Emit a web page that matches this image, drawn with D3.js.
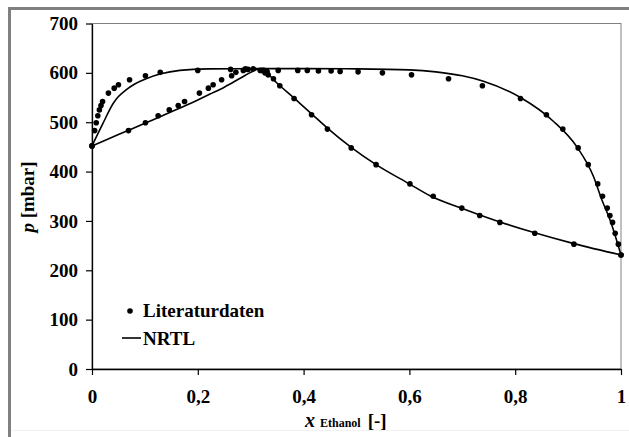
<!DOCTYPE html>
<html>
<head>
  <title>p-x-y Ethanol</title>
  <meta charset="utf-8" />
  <script src="https://d3js.org/d3.v7.min.js"></script>
</head>
<style>

body {
  margin: 0;
  background: #fff;
}

</style>
<body>
<div id="viz"></div>
<script>
'use strict';

// literature data: pressure [mbar], liquid x, vapour y
const litP = [452, 483, 499, 513, 525, 534, 542, 559, 569, 576, 586, 594, 601, 605, 607, 608,
  605, 605, 605, 604, 604, 603, 602, 600, 596, 588, 574, 548, 515, 486, 448, 414, 375, 350,
  326, 311, 297, 275, 253, 231];
const litX = [0, 0.005, 0.008, 0.011, 0.014, 0.017, 0.020, 0.031, 0.042, 0.050, 0.071, 0.101,
  0.129, 0.200, 0.262, 0.290,
  0.352, 0.389, 0.407, 0.428, 0.452, 0.469, 0.503, 0.549, 0.604, 0.674, 0.738, 0.810, 0.859,
  0.890, 0.919, 0.938, 0.956, 0.965, 0.974, 0.979, 0.984, 0.989, 0.995, 1.0];
const litY = [0, 0.069, 0.101, 0.125, 0.146, 0.163, 0.175, 0.203, 0.220, 0.229, 0.245, 0.264,
  0.272, 0.286, 0.295, 0.305,
  0.318, 0.322, 0.325, 0.327, 0.329, 0.330, 0.331, 0.327, 0.333, 0.343, 0.355, 0.382, 0.415,
  0.445, 0.490, 0.537, 0.601, 0.645, 0.699, 0.733, 0.771, 0.837, 0.911, 1.0];

// NRTL bubble and dew curves
const bubbleX = [0, 0.02, 0.04, 0.05, 0.065, 0.08, 0.10, 0.13, 0.166, 0.22, 0.30, 0.40, 0.50,
  0.60, 0.65, 0.70, 0.74, 0.81, 0.872, 0.916, 0.948, 0.963, 0.98, 1.0];
const bubbleP = [452, 496, 538, 552, 566, 577, 587, 598, 605, 608, 608.5, 608.5, 608, 606, 602,
  594, 583, 550, 502, 451, 390, 345, 300, 231];
const dewX = [0, 0.05, 0.10, 0.15, 0.20, 0.223, 0.25, 0.28, 0.30, 0.312, 0.33, 0.349, 0.382,
  0.415, 0.445, 0.49, 0.537, 0.60, 0.639, 0.70, 0.733, 0.771, 0.837, 0.911, 1.0];
const dewP = [452, 475, 498, 521, 545, 557, 571, 589, 601, 607, 600, 580, 549, 517, 488, 449,
  414, 375, 351, 325, 312, 298, 276, 254, 231];

const xTicks = [0, 0.2, 0.4, 0.6, 0.8, 1];
const xTickLabels = ['0', '0,2', '0,4', '0,6', '0,8', '1'];
const yTicks = [0, 100, 200, 300, 400, 500, 600, 700];

const FONT = 'Liberation Serif';
const FS = 19;

function viz() {
  const W = 629, H = 437;
  const svg = d3.select('#viz')
    .append('svg')
      .attr('width', W)
      .attr('height', H);

  svg.append('rect').attr('width', W).attr('height', H).attr('fill', '#fff');

  // outer frame (grey, left and top)
  svg.append('line').attr('x1', 9.5).attr('x2', 9.5).attr('y1', 7).attr('y2', H)
    .attr('stroke', '#808080').attr('stroke-width', 3);
  svg.append('line').attr('x1', 8).attr('x2', W).attr('y1', 8.5).attr('y2', 8.5)
    .attr('stroke', '#808080').attr('stroke-width', 3);
  svg.append('line').attr('x1', 11).attr('x2', W).attr('y1', 430.5).attr('y2', 430.5)
    .attr('stroke', '#f2f2f2').attr('stroke-width', 1);

  const xscale = d3.scaleLinear().domain([0, 1]).range([92, 621]);
  const yscale = d3.scaleLinear().domain([0, 700]).range([369, 23.5]);

  // plot frame
  svg.append('rect')
    .attr('x', xscale(0)).attr('y', yscale(700))
    .attr('width', xscale(1) - xscale(0)).attr('height', yscale(0) - yscale(700))
    .attr('fill', 'none').attr('stroke', '#808080').attr('stroke-width', 1);

  const xaxis = svg.append('g')
    .attr('transform', 'translate(0,' + yscale(0) + ')')
    .call(d3.axisBottom(xscale).tickValues(xTicks)
      .tickFormat((d, i) => xTickLabels[i]).tickSize(6).tickSizeOuter(0).tickPadding(15));
  const yaxis = svg.append('g')
    .attr('transform', 'translate(' + xscale(0) + ',0)')
    .call(d3.axisLeft(yscale).tickValues(yTicks).tickSize(6).tickSizeOuter(0).tickPadding(8));

  [xaxis, yaxis].forEach(g => {
    g.attr('font-family', null).attr('font-size', null);
    g.select('.domain').attr('stroke', '#000').attr('stroke-width', 1.3);
    g.selectAll('.tick line').attr('stroke', '#000').attr('stroke-width', 1.2);
    g.selectAll('.tick text')
      .attr('font-family', FONT)
      .attr('font-weight', 'bold')
      .attr('font-size', FS)
      .attr('fill', '#000');
  });

  const line = d3.line()
    .x(d => xscale(d[0]))
    .y(d => yscale(d[1]))
    .curve(d3.curveMonotoneX);

  svg.append('path')
    .datum(bubbleX.map((x, i) => [x, bubbleP[i]]))
    .attr('d', line)
    .attr('fill', 'none').attr('stroke', '#000').attr('stroke-width', 1.6);
  svg.append('path')
    .datum(dewX.map((x, i) => [x, dewP[i]]))
    .attr('d', line)
    .attr('fill', 'none').attr('stroke', '#000').attr('stroke-width', 1.6);

  const pts = [];
  litP.forEach((p, i) => {
    pts.push([litX[i], p]);
    pts.push([litY[i], p]);
  });
  svg.selectAll('circle.lit').data(pts)
    .enter()
    .append('circle')
    .attr('class', 'lit')
    .attr('r', 2.8)
    .attr('cx', d => xscale(d[0]))
    .attr('cy', d => yscale(d[1]))
    .attr('fill', '#000');

  // legend
  svg.append('circle').attr('cx', 130).attr('cy', 311).attr('r', 2.8).attr('fill', '#000');
  svg.append('text').attr('x', 143).attr('y', 317)
    .attr('font-family', FONT).attr('font-weight', 'bold').attr('font-size', FS)
    .text('Literaturdaten');
  svg.append('line').attr('x1', 122).attr('x2', 141).attr('y1', 338).attr('y2', 338)
    .attr('stroke', '#000').attr('stroke-width', 1.6);
  svg.append('text').attr('x', 143).attr('y', 345)
    .attr('font-family', FONT).attr('font-weight', 'bold').attr('font-size', FS)
    .text('NRTL');

  // axis titles
  const xt = svg.append('text').attr('x', 305).attr('y', 427)
    .attr('font-family', FONT).attr('font-weight', 'bold');
  xt.append('tspan').attr('font-size', 20).attr('font-style', 'italic').text('x');
  xt.append('tspan').attr('dx', 5).attr('font-size', 12).text('Ethanol');
  xt.append('tspan').attr('dx', 7).attr('font-size', FS).text('[-]');

  const yt = svg.append('text')
    .attr('transform', 'translate(34,197) rotate(-90)')
    .attr('text-anchor', 'middle')
    .attr('font-family', FONT).attr('font-weight', 'bold').attr('font-size', FS);
  yt.append('tspan').attr('font-style', 'italic').text('p');
  yt.append('tspan').text(' [mbar]');
}

viz();

</script>
</body>
</html>
